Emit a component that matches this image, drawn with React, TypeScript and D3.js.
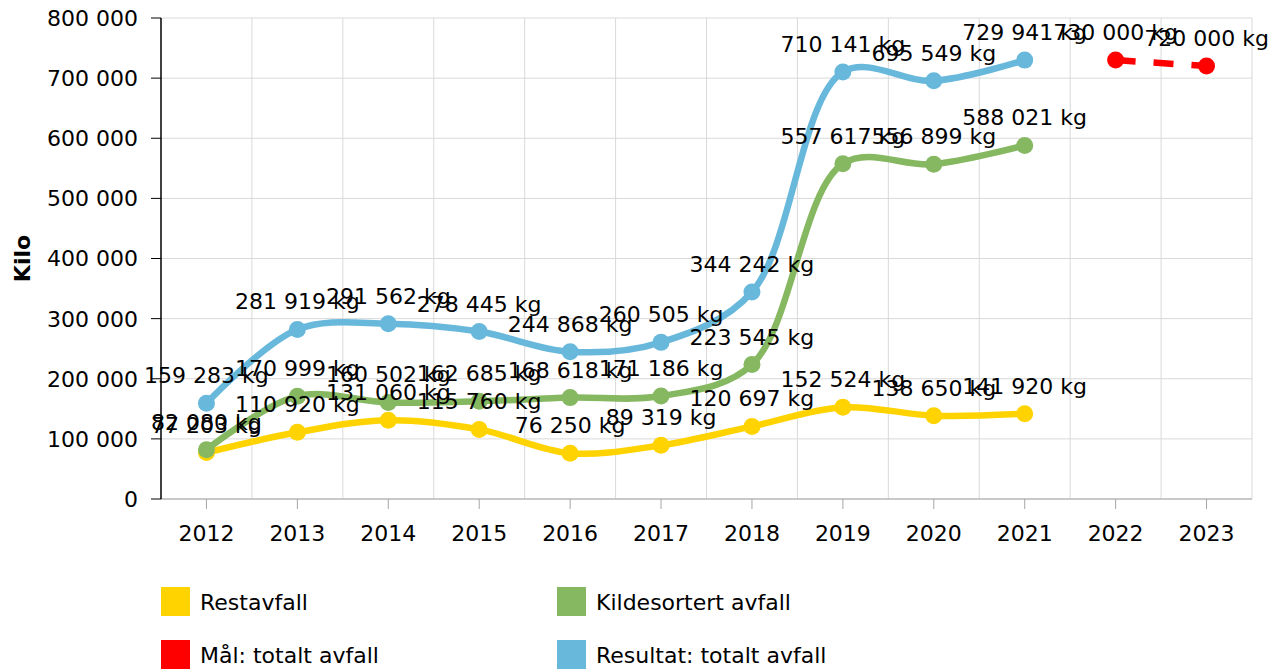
import React, { useEffect } from "react";
import * as d3 from "d3";

const years = ["2012", "2013", "2014", "2015", "2016", "2017", "2018", "2019", "2020", "2021", "2022", "2023"];
const restavfall = [77203, 110920, 131060, 115760, 76250, 89319, 120697, 152524, 138650, 141920];
const kildesortert = [82080, 170999, 160502, 162685, 168618, 171186, 223545, 557617, 556899, 588021];
const totalt = [159283, 281919, 291562, 278445, 244868, 260505, 344242, 710141, 695549, 729941];
const maalYears = ["2022", "2023"];
const maal = [730000, 720000];
const yTicks = [0, 100000, 200000, 300000, 400000, 500000, 600000, 700000, 800000];

const W = 1285;
const H = 670;
const left = 161;
const right = 1252;
const top = 18;
const bottom = 499;
const FONT = "DejaVu Sans, Verdana, sans-serif";
const FS = 22;

const locale = d3.formatLocale({ decimal: ",", thousands: " ", grouping: [3], currency: ["", ""] });
const fmt = locale.format(",d");

const colors = { rest: "#FFD300", sort: "#86B862", total: "#68B8DC", goal: "#FF0000" };

export default function App() {
  useEffect(() => {
    document.body.style.margin = "0";
  }, []);

  const x = d3.scaleBand<string>().domain(years).range([left, right]);
  const cx = (yr: string) => (x(yr) as number) + x.bandwidth() / 2;
  const y = d3.scaleLinear().domain([0, 800000]).range([bottom, top]);

  const line = d3
    .line<[string, number]>()
    .x((d) => cx(d[0]))
    .y((d) => y(d[1]))
    .curve(d3.curveCatmullRom.alpha(0.5));
  const straight = d3
    .line<[string, number]>()
    .x((d) => cx(d[0]))
    .y((d) => y(d[1]));

  const series = [
    { key: "rest", data: restavfall.map((v, i) => [years[i], v] as [string, number]), color: colors.rest },
    { key: "sort", data: kildesortert.map((v, i) => [years[i], v] as [string, number]), color: colors.sort },
    { key: "total", data: totalt.map((v, i) => [years[i], v] as [string, number]), color: colors.total },
  ];
  const goalData = maal.map((v, i) => [maalYears[i], v] as [string, number]);

  const allLabels = [...series.flatMap((s) => s.data), ...goalData];

  const legend = [
    { label: "Restavfall", color: colors.rest, lx: 161, ly: 587 },
    { label: "Kildesortert avfall", color: colors.sort, lx: 557, ly: 587 },
    { label: "Mål: totalt avfall", color: colors.goal, lx: 161, ly: 640 },
    { label: "Resultat: totalt avfall", color: colors.total, lx: 557, ly: 640 },
  ];

  const boundaries = years.map((yr) => (x(yr) as number) + x.bandwidth());

  return (
    <svg width={W} height={H} style={{ display: "block", fontFamily: FONT }}>
      <rect width={W} height={H} fill="#fff" />
      {/* grid */}
      {yTicks.map((t) => (
        <line key={"h" + t} x1={left} x2={right} y1={y(t)} y2={y(t)} stroke="#d9d9d9" strokeWidth={1} />
      ))}
      {boundaries.map((b, i) => (
        <line key={"v" + i} x1={b} x2={b} y1={top} y2={bottom} stroke="#d9d9d9" strokeWidth={1} />
      ))}
      {/* x axis */}
      <line x1={left} x2={right} y1={bottom} y2={bottom} stroke="#a6a6a6" strokeWidth={1} />
      {years.map((yr) => (
        <g key={yr}>
          <line x1={cx(yr)} x2={cx(yr)} y1={bottom} y2={bottom + 10} stroke="#a6a6a6" />
          <text x={cx(yr)} y={541} textAnchor="middle" fontSize={FS} fill="#000">
            {yr}
          </text>
        </g>
      ))}
      {/* y axis */}
      <line x1={left} x2={left} y1={top} y2={bottom} stroke="#000" strokeWidth={1.5} />
      {yTicks.map((t) => (
        <g key={"yt" + t}>
          <line x1={left - 10} x2={left} y1={y(t)} y2={y(t)} stroke="#000" />
          <text x={138} y={y(t)} dy="0.36em" textAnchor="end" fontSize={FS} fill="#000">
            {fmt(t)}
          </text>
        </g>
      ))}
      <text
        transform={`translate(30,${(top + bottom) / 2}) rotate(-90)`}
        textAnchor="middle"
        fontSize={FS}
        fontWeight="bold"
        fill="#000"
      >
        Kilo
      </text>
      {/* series */}
      {series.map((s) => (
        <g key={s.key}>
          <path d={line(s.data) || ""} fill="none" stroke={s.color} strokeWidth={6.5} strokeLinecap="round" />
          {s.data.map((d) => (
            <circle key={d[0]} cx={cx(d[0])} cy={y(d[1])} r={8.5} fill={s.color} />
          ))}
        </g>
      ))}
      <g>
        <path d={straight(goalData) || ""} fill="none" stroke={colors.goal} strokeWidth={6.5} strokeDasharray="20 18" />
        {goalData.map((d) => (
          <circle key={d[0]} cx={cx(d[0])} cy={y(d[1])} r={8.5} fill={colors.goal} />
        ))}
      </g>
      {/* data labels */}
      {allLabels.map((d, i) => (
        <text key={"l" + i} x={cx(d[0])} y={y(d[1]) - 20} textAnchor="middle" fontSize={FS} fill="#000">
          {fmt(d[1]) + " kg"}
        </text>
      ))}
      {/* legend */}
      {legend.map((l) => (
        <g key={l.label}>
          <rect x={l.lx} y={l.ly} width={29} height={29} fill={l.color} />
          <text x={l.lx + 39} y={l.ly + 23} fontSize={FS} fill="#000">
            {l.label}
          </text>
        </g>
      ))}
    </svg>
  );
}
